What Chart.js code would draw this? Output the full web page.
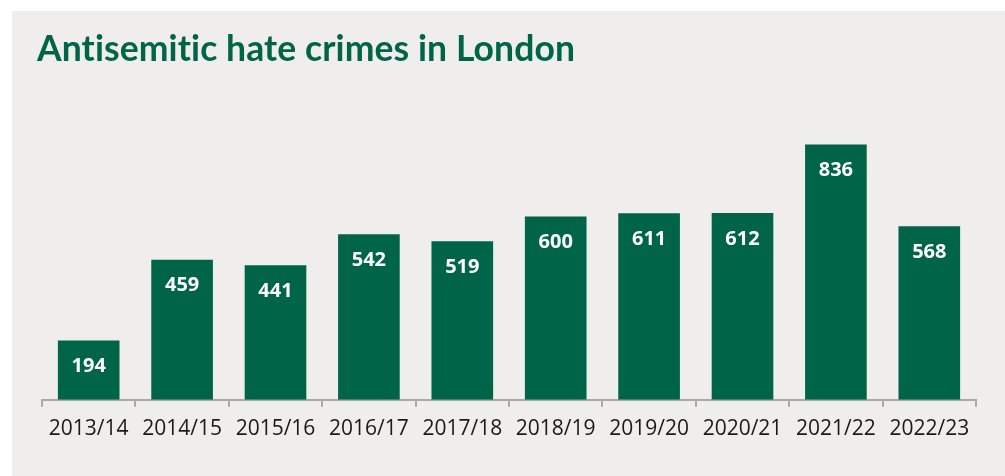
<!DOCTYPE html>
<html>
<head>
<meta charset="utf-8">
<script src="https://cdn.jsdelivr.net/npm/chart.js@4"></script>
<style>
  html, body { margin: 0; padding: 0; background: #fff; }
  #wrap { width: 1005px; height: 476px; }
</style>
</head>
<body>
<div id="wrap"><canvas id="myChart" width="1005" height="476"></canvas></div>
<script>
var years = ['2013/14', '2014/15', '2015/16', '2016/17', '2017/18', '2018/19', '2019/20', '2020/21', '2021/22', '2022/23'];
var crimes = [194, 459, 441, 542, 519, 600, 611, 612, 836, 568];
var chartTitle = 'Antisemitic hate crimes in London';

var green = '#006548';

// grey panel behind everything, with the title on it
var panelPlugin = {
    id: 'panel',
    beforeDraw: function (chart) {
        var c = chart.ctx;
        c.save();
        c.fillStyle = '#ffffff';
        c.fillRect(0, 0, chart.width, chart.height);
        c.fillStyle = '#efeeec';
        c.fillRect(12, 11, chart.width - 12, chart.height - 11);
        c.fillStyle = green;
        c.font = 'bold 35.5px Lato';
        c.letterSpacing = '0.1px'; // stops the "ti" ligature
        c.textBaseline = 'alphabetic';
        c.textAlign = 'left';
        c.fillText(chartTitle, 37, 61);
        c.restore();
    }
};

// white value labels near the top of each bar
var valuePlugin = {
    id: 'values',
    afterDatasetsDraw: function (chart) {
        var c = chart.ctx;
        var meta = chart.getDatasetMeta(0);
        c.save();
        c.fillStyle = '#ffffff';
        c.font = 'bold 20px "Open Sans"';
        c.textAlign = 'center';
        c.textBaseline = 'middle';
        meta.data.forEach(function (bar, i) {
            c.fillText(crimes[i], bar.x, bar.y + 26);
        });
        c.restore();
    }
};

var ctx = document.getElementById('myChart').getContext('2d');
var myChart = new Chart(ctx, {
    type: 'bar',
    data: {
        labels: years,
        datasets: [{
            data: crimes,
            backgroundColor: green,
            borderWidth: 0,
            barPercentage: 0.66,
            categoryPercentage: 1
        }]
    },
    options: {
        responsive: false,
        animation: false,
        layout: { padding: { left: 42, right: 29, top: 125, bottom: 24 } },
        plugins: {
            legend: { display: false },
            tooltip: { enabled: false }
        },
        scales: {
            y: {
                display: false,
                min: 0,
                max: 900
            },
            x: {
                grid: {
                    offset: true,
                    drawOnChartArea: false,
                    drawTicks: true,
                    tickLength: 7,
                    color: '#aaaaaa',
                    lineWidth: 2
                },
                border: { display: true, color: '#aaaaaa', width: 2 },
                ticks: {
                    color: '#1a1a1a',
                    font: { family: '"Open Sans"', size: 21 },
                    padding: 10,
                    maxRotation: 0
                }
            }
        }
    },
    plugins: [panelPlugin, valuePlugin]
});
</script>
</body>
</html>
